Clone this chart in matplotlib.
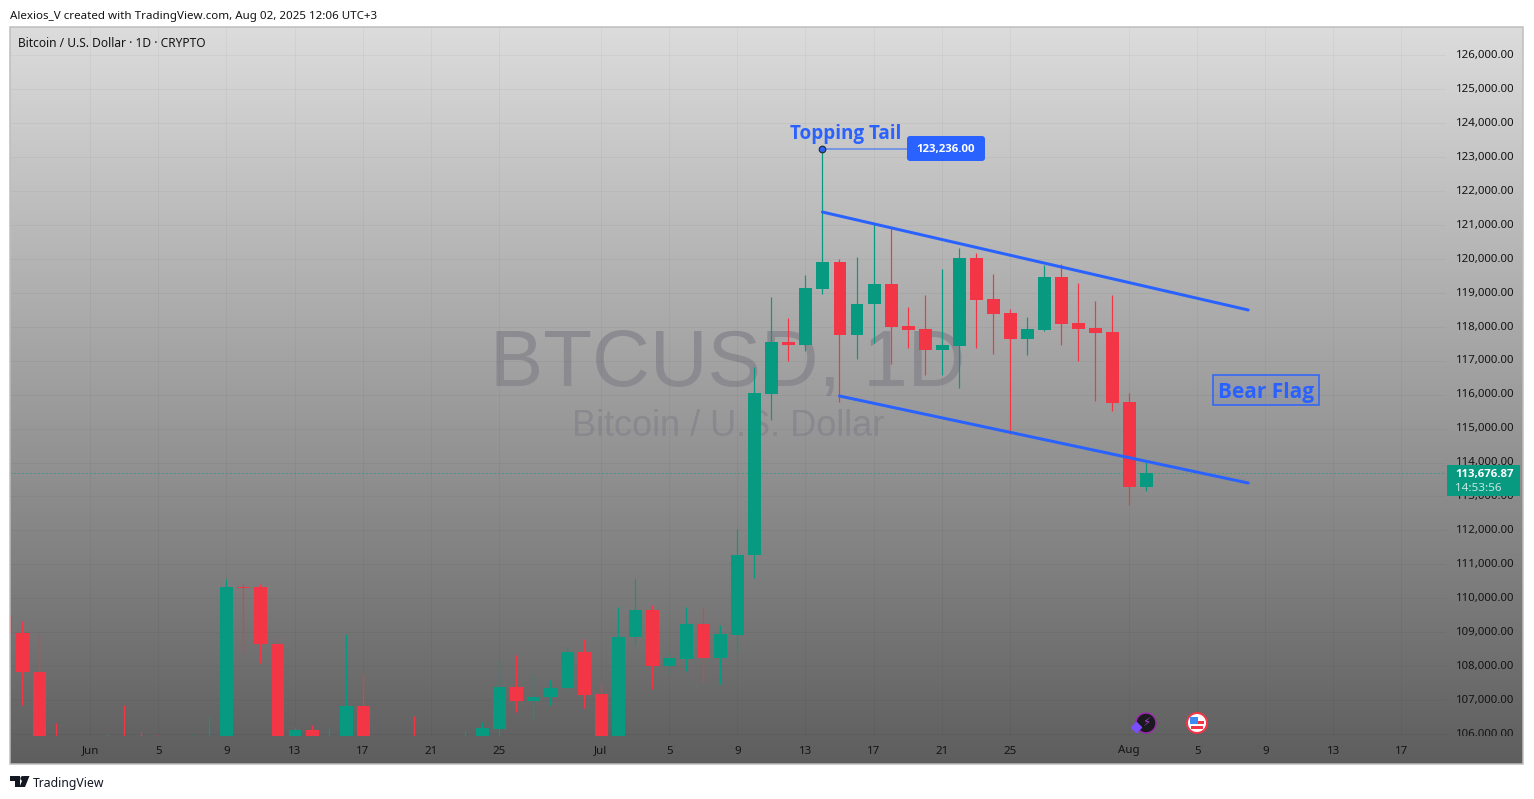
import matplotlib
matplotlib.use('Agg')
import matplotlib.pyplot as plt
import matplotlib.dates as mdates
from matplotlib.colors import LinearSegmentedColormap
from matplotlib.patches import Rectangle, FancyBboxPatch, Circle, Polygon
from matplotlib.transforms import Bbox, ScaledTranslation
import numpy as np
import pandas as pd

plt.rcParams['font.family'] = ['Noto Sans', 'DejaVu Sans']

W, H = 1534, 799
GREEN = '#089981'
RED = '#f23645'
BLUE = '#2962ff'
TEXT = '#141416'
BOLD_FONT = 'Open Sans'

# daily candles, first one is 27 May 2025
start_date = '2025-05-27'
opens = [109479, 108969, 107838, 105600, 103900, 104600, 105700, 105800, 105400, 104700,
         103800, 101600, 104400, 105700, 110340, 110324, 108663, 104900, 106121, 105400,
         105600, 106828, 104600, 104800, 104600, 103300, 102100, 100900, 105400, 106150,
         107378, 106975, 107084, 107358, 108418, 107181, 105700, 108851, 109655, 108015,
         108212, 109243, 108250, 108919, 111267, 116026, 117549, 117461, 119110, 119906,
         117755, 118669, 119258, 118021, 117932, 117314, 117432, 120024, 118816, 118404,
         117638, 117903, 119464, 118109, 117962, 117844, 115782, 113278]
highs = [109800, 109323, 108948, 106318, 105000, 105800, 106003, 106848, 106062, 105974,
         105000, 105974, 106533, 110569, 110421, 110421, 108822, 106200, 106259, 106180,
         108948, 107791, 105500, 105700, 106533, 104000, 103000, 106091, 106356, 108183,
         108321, 107770, 107594, 108574, 108792, 107543, 109735, 110560, 109794, 108418,
         109735, 109714, 109205, 112041, 116804, 118875, 118256, 119523, 123236, 119985,
         120053, 121046, 120928, 118580, 118934, 119700, 120318, 120171, 119552, 118521,
         118286, 119817, 119847, 119287, 118757, 118934, 116047, 114015]
lows = [108900, 106857, 105000, 103600, 103600, 103700, 103800, 104800, 104200, 103000,
        101000, 101200, 104200, 105100, 108427, 108085, 105000, 103400, 104900, 104400,
        104900, 103400, 103700, 103900, 102400, 100800, 98200, 99800, 104700, 105953,
        106660, 106445, 106857, 107249, 106778, 105200, 105100, 108604, 107328, 107800,
        107859, 107543, 107485, 108368, 110607, 115252, 116999, 117293, 118972, 115782,
        117049, 117529, 116901, 117373, 116577, 116577, 116194, 117373, 117196, 114839,
        117166, 117873, 117461, 116990, 115811, 115517, 112748, 113161]
closes = [108948, 107838, 105600, 103900, 104600, 105600, 105800, 105400, 104700, 103800,
          101600, 104400, 105700, 110324, 110290, 108663, 105600, 106121, 105400, 105600,
          106828, 104600, 104800, 104600, 103300, 102100, 100900, 105400, 106180, 107378,
          106975, 107084, 107358, 108418, 107152, 105700, 108851, 109655, 108015, 108242,
          109243, 108250, 108948, 111267, 116038, 117549, 117461, 119140, 119906, 117755,
          118669, 119258, 117991, 117903, 117314, 117461, 120024, 118787, 118374, 117638,
          117932, 119464, 118080, 117932, 117814, 115753, 113278, 113676.87]

last_price = 113676.87
peak_price = 123236
peak_date = '2025-07-14'
badge_date = '2025-07-19'

# channel drawn on the chart
upper_dates = ['2025-07-14', '2025-08-08']
upper_prices = [121378, 118492]
lower_dates = ['2025-07-15', '2025-08-08']
lower_prices = [115959, 113396]

price_ticks = list(range(106000, 127000, 1000))
date_ticks = ['2025-06-01', '2025-06-05', '2025-06-09', '2025-06-13', '2025-06-17', '2025-06-21',
              '2025-06-25', '2025-07-01', '2025-07-05', '2025-07-09', '2025-07-13', '2025-07-17',
              '2025-07-21', '2025-07-25', '2025-08-01', '2025-08-05', '2025-08-09', '2025-08-13',
              '2025-08-17']
date_labels = ['Jun', '5', '9', '13', '17', '21', '25', 'Jul', '5', '9', '13', '17', '21', '25',
               'Aug', '5', '9', '13', '17']


def num(d):
    return mdates.date2num(pd.Timestamp(d))


def px(n):
    # pixels to points at dpi 100
    return n * 0.72


fig = plt.figure(figsize=(W / 100, H / 100), dpi=100, facecolor='white')

# back layer in pixel coordinates: gradient and watermark
bg = fig.add_axes([0, 0, 1, 1], zorder=0)
cmap = LinearSegmentedColormap.from_list('pane', ['#dcdcdc', '#5e5e5e'])
bg.imshow(np.linspace(0, 1, 256).reshape(-1, 1), cmap=cmap, aspect='auto',
          extent=(10, 1523, 764, 27), interpolation='bilinear')
bg.set_xlim(0, W)
bg.set_ylim(H, 0)
bg.axis('off')
bg.text(728, 357, 'BTCUSD, 1D', family='Liberation Sans', fontsize=57.6, color='#85858c',
        alpha=0.8, ha='center', va='center_baseline')
bg.text(728, 423, 'Bitcoin / U.S. Dollar', family='Liberation Sans', fontsize=26, color='#85858c',
        alpha=0.8, ha='center', va='center_baseline')

# main chart
ax = fig.add_axes([10 / W, (H - 736) / H, 1436 / W, 709 / H], zorder=1)
ax.patch.set_alpha(0)
for s in ax.spines.values():
    s.set_visible(False)

x = mdates.date2num(pd.date_range(start_date, periods=len(opens)))
o = np.array(opens)
c = np.array(closes)
colors = [GREEN if b >= a else RED for a, b in zip(opens, closes)]
for xi, lo, hi, col in zip(x, lows, highs, colors):
    ax.plot([xi, xi], [lo, hi], color=col, lw=px(1.2), solid_capstyle='butt', zorder=3, snap=True)
# half a pixel to the right so the body stays centred on the snapped wick
ax.bar(x + 0.03, c - o, bottom=o, width=0.76, color=colors, linewidth=0, zorder=4)

jun1 = num('2025-06-01')
ax.set_xlim(jun1 - 4.706, jun1 + 79.615)
ax.set_ylim(105944, 126828)
ax.set_xticks([num(d) for d in date_ticks])
ax.set_xticklabels(date_labels)
ax.set_yticks(price_ticks)
ax.set_yticklabels([f'{p:,.2f}' for p in price_ticks])
ax.yaxis.tick_right()
ax.tick_params(axis='both', length=0, labelsize=8.25, labelcolor=TEXT)
ax.tick_params(axis='x', pad=px(9.5))
ax.tick_params(axis='y', pad=px(10))
ax.grid(True, color='black', alpha=0.035, lw=px(1))
ax.set_axisbelow(True)

# 106,000 label is cut off where the time scale starts, labels sit a bit above their grid line
clip = Bbox.from_extents(0, H - 736, W, H)
nudge = ScaledTranslation(0, 1.2 / 100, fig.dpi_scale_trans)
for lbl in ax.get_yticklabels():
    lbl.set_verticalalignment('center_baseline')
    lbl.set_transform(lbl.get_transform() + nudge)
    lbl.set_clip_box(clip)
    lbl.set_clip_on(True)

ax.axhline(last_price, color=GREEN, lw=px(1), ls=(0, (1, 3)), zorder=2)

ax.plot([num(d) for d in upper_dates], upper_prices, color=BLUE, lw=px(3), zorder=5,
        solid_capstyle='round')
ax.plot([num(d) for d in lower_dates], lower_prices, color=BLUE, lw=px(3), zorder=5,
        solid_capstyle='round')

ax.plot([num(peak_date), num(badge_date)], [peak_price, peak_price], color=BLUE, alpha=0.6,
        lw=px(1.6), zorder=5)
ax.scatter([num(peak_date)], [peak_price], s=22, color=BLUE, edgecolors='#2a2e39', linewidths=0.9,
           zorder=6)

# top layer in pixel coordinates
top = fig.add_axes([0, 0, 1, 1], zorder=2)
top.patch.set_alpha(0)
top.set_xlim(0, W)
top.set_ylim(H, 0)
top.axis('off')

top.add_patch(Rectangle((10, 27), 1513, 737, fill=False, ec='#bdbdbd', lw=px(1.5)))

top.text(10, 15, 'Alexios_V created with TradingView.com, Aug 02, 2025 12:06 UTC+3', fontsize=8.33,
         color=TEXT, va='center_baseline')
top.text(18, 42, 'Bitcoin / U.S. Dollar · 1D · CRYPTO', fontsize=8.6, color=TEXT, va='center_baseline')

top.text(845.5, 132, 'Topping Tail', family=BOLD_FONT, fontsize=13.6, color=BLUE, weight='bold',
         ha='center', va='center_baseline')
top.add_patch(FancyBboxPatch((910, 139), 72, 19, boxstyle='round,pad=3', fc=BLUE, ec='none'))
top.text(946, 148, '123,236.00', family=BOLD_FONT, fontsize=8.2, color='white', weight='bold',
         ha='center', va='center_baseline')

top.add_patch(Rectangle((1213, 375), 106, 30, fc=BLUE, alpha=0.08, ec='none'))
top.add_patch(Rectangle((1213, 375), 106, 30, fill=False, ec=BLUE, lw=px(1.5)))
top.text(1266, 390, 'Bear Flag', family=BOLD_FONT, fontsize=15, color=BLUE, weight='bold',
         ha='center', va='center_baseline')

# last price tag
top.add_patch(Rectangle((1447, 465), 73, 31, fc=GREEN, ec='none'))
top.text(1455, 473, f'{last_price:,.2f}', family=BOLD_FONT, fontsize=8.2, color='white', weight='bold',
         va='center_baseline')
top.text(1455, 487, '14:53:56', fontsize=8.4, color='#c4e8e0', va='center_baseline')

# event icons
top.add_patch(Circle((1146, 723), 10, fc='#1a1a1e', ec='#9c27b0', lw=px(1.5)))
top.text(1146.5, 723, '\u26a1', family='DejaVu Sans', fontsize=8.5, color='#a63fd0', ha='center',
         va='center')
top.scatter([1136], [727], marker='D', s=26, color='#7b4dff', zorder=5)
top.add_patch(Circle((1197, 723), 10, fc='white', ec='#f23645', lw=px(2)))
top.add_patch(Rectangle((1190, 721), 14, 3, fc='#f23645', ec='none'))
top.add_patch(Rectangle((1191, 726), 12, 2.5, fc='#f23645', ec='none'))
top.add_patch(Rectangle((1190, 716.5), 8, 7, fc='#3d8bf2', ec='none'))

# logo
top.add_patch(Polygon([(10, 776), (20, 776), (20, 787), (15, 787), (15, 781), (10, 781)], fc='#131722',
                      ec='none'))
top.add_patch(Circle((22.8, 778.4), 2.4, fc='#131722', ec='none'))
top.add_patch(Polygon([(24, 776), (29.5, 776), (25, 787), (19.5, 787)], fc='#131722', ec='none'))
top.text(33, 781.5, 'TradingView', fontsize=8.8, color='#131722', va='center_baseline')

fig.savefig('out.png', dpi=100, facecolor='white')
